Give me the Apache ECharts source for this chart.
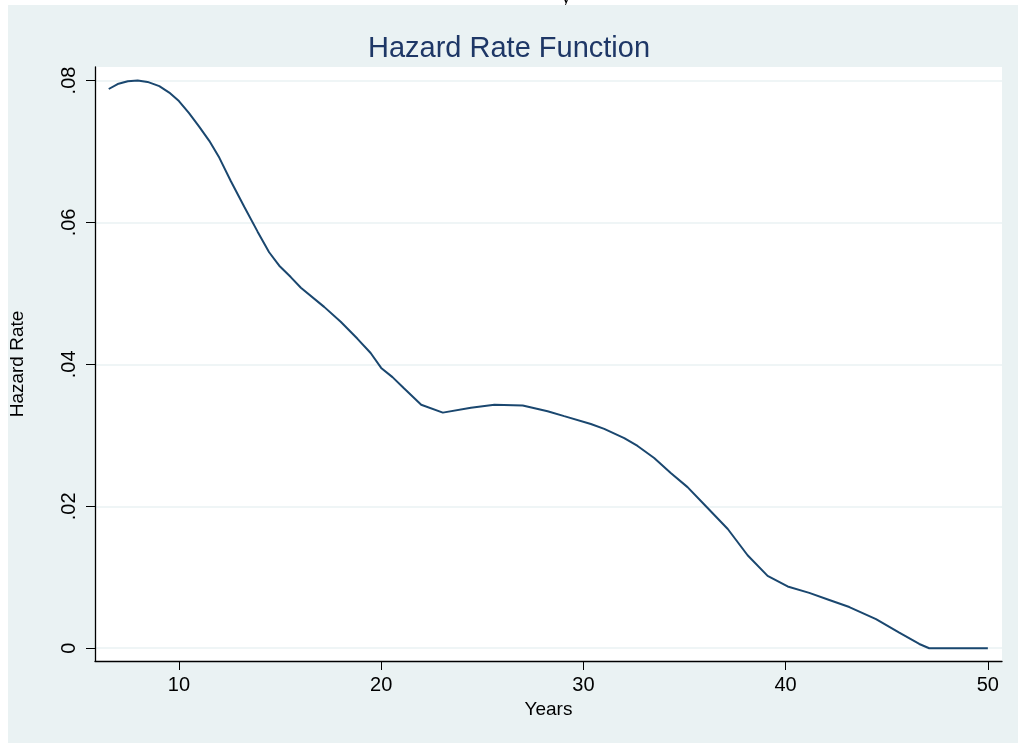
<!DOCTYPE html>
<html>
<head>
<meta charset="utf-8">
<style>
    html, body {margin:0;padding:0;background:#fff}
    #chart {width:1018px;height:745px}
</style>
<script src="https://cdn.jsdelivr.net/npm/echarts@6/dist/echarts.min.js"></script>
</head>
<body>
<div id="chart"></div>
<script>
    // values
    var years = [6.53, 6.97, 7.47, 7.96, 8.45, 9.03, 9.52, 10.0, 10.5, 11.0, 11.5, 12.0, 12.57, 13.23, 13.89,
        14.46, 14.96, 15.53, 16.03, 17.18, 18.0, 18.83, 19.48, 20.0, 20.56, 21.14, 21.98, 23.05, 24.44, 25.6,
        27.0, 28.23, 29.05, 30.37, 31.03, 32.02, 32.68, 33.5, 34.32, 35.15, 36.06, 37.14, 38.12, 39.11, 40.1,
        41.17, 42.16, 43.15, 44.47, 45.62, 46.61, 47.1, 50.0];
    var hazard = [0.0788, 0.0795, 0.0799, 0.0800, 0.0798, 0.0792, 0.0783, 0.0771, 0.0754, 0.0735, 0.0715, 0.0691, 0.0658, 0.0622, 0.0587,
        0.0558, 0.0539, 0.0523, 0.0508, 0.0481, 0.0460, 0.0436, 0.0416, 0.0395, 0.0382, 0.0366, 0.0343, 0.0332, 0.0339, 0.0343,
        0.0342, 0.0334, 0.0327, 0.0316, 0.0309, 0.0296, 0.0285, 0.0268, 0.0247, 0.0227, 0.0200, 0.0168, 0.0131, 0.0102, 0.0087,
        0.0078, 0.0068, 0.0058, 0.0041, 0.0022, 0.0006, 0, 0];
    var xTicks = [10, 20, 30, 40, 50];
    var yTicks = [0, 0.02, 0.04, 0.06, 0.08];
    var yTickLabels = ['0', '.02', '.04', '.06', '.08'];

    var points = [];
    for (var i = 0; i < years.length; i++) {
        points.push([years[i], hazard[i]]);
    }

    var chart = echarts.init(document.getElementById('chart'));
    var option = {
        animation: false,
        backgroundColor: '#ffffff',
        textStyle: {fontFamily: 'Liberation Sans'},
        graphic: [
            {
                // cut-off glyph of a heading above the graph
                type: 'text', silent: true, z: -20,
                style: {text: 'y', x: 566, y: 8, fill: '#000', font: '22px "Liberation Serif"',
                    textAlign: 'center', textVerticalAlign: 'bottom'}
            },
            {
                type: 'rect', z: -10, silent: true,
                shape: {x: 8, y: 5, width: 1010, height: 738},
                style: {fill: '#eaf2f3'}
            }
        ],
        title: {
            text: 'Hazard Rate Function',
            left: 'center',
            top: 29,
            textStyle: {color: '#1e3766', fontSize: 29, fontWeight: 'normal', fontFamily: 'Liberation Sans'}
        },
        grid: {
            left: 94, top: 67, right: 16, bottom: 84,
            show: true, backgroundColor: '#ffffff', borderWidth: 0
        },
        xAxis: {
            type: 'value',
            min: 5.85, max: 50.7,
            name: 'Years',
            nameLocation: 'middle',
            nameGap: 32,
            nameTextStyle: {color: '#000', fontSize: 19},
            axisLine: {show: true, onZero: false, lineStyle: {color: '#000', width: 1.3}},
            axisTick: {show: true, length: 9, customValues: xTicks, lineStyle: {color: '#000'}},
            axisLabel: {customValues: xTicks, color: '#000', fontSize: 20, margin: 14},
            splitLine: {show: false}
        },
        yAxis: {
            type: 'value',
            min: -0.0018, max: 0.0819,
            name: 'Hazard Rate',
            nameLocation: 'middle',
            nameGap: 68,
            nameTextStyle: {color: '#000', fontSize: 19},
            axisLine: {show: true, onZero: false, lineStyle: {color: '#000', width: 1.3}},
            axisTick: {show: true, length: 9, customValues: yTicks, lineStyle: {color: '#000'}},
            axisLabel: {
                customValues: yTicks, color: '#000', fontSize: 20, margin: 16, rotate: 90,
                formatter: function (v) {
                    return yTickLabels[yTicks.indexOf(v)];
                }
            },
            splitLine: {show: true, lineStyle: {color: '#eaf2f3', width: 1.5}}
        },
        series: [
            {
                type: 'line',
                data: points,
                showSymbol: false,
                lineStyle: {color: '#1a476f', width: 2},
                itemStyle: {color: '#1a476f'}
            }
        ]
    };
    chart.setOption(option);
</script>
</body>
</html>
